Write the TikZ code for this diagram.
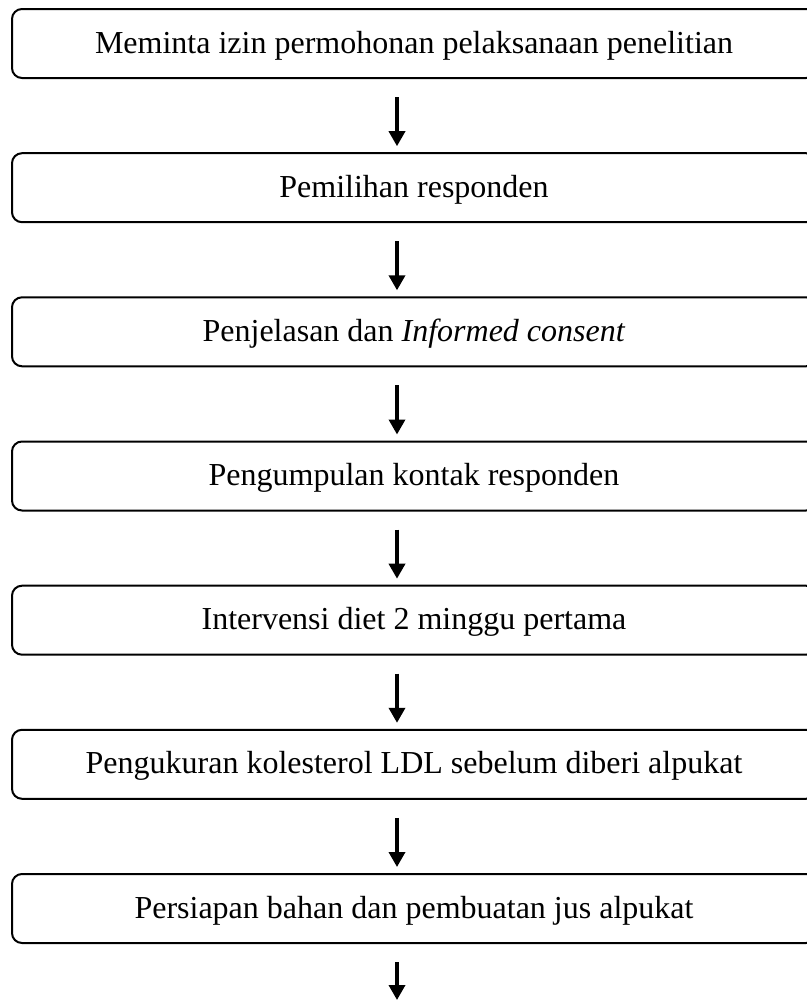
\documentclass[tikz,border=0pt]{standalone}
\usepackage{fontspec}
\setmainfont{Liberation Serif}
\usetikzlibrary{arrows.meta}

\tikzset{
  stepbox/.style={draw, line width=1pt, rounded corners=5pt,
    minimum width=402pt, minimum height=34.5pt, inner sep=0pt,
    text height=11.5pt, text depth=2pt,
    font=\fontsize{16}{20}\selectfont},
  steparrow/.style={-{Triangle[width=8pt,length=7.5pt]}, line width=1.75pt,
    shorten <=9pt, shorten >=3pt}
}

\begin{document}
\begin{tikzpicture}[x=0.5pt, y=-0.5pt]

\clip (0,0) rectangle (807,1001);

% the steps
\node [stepbox] (izin)      at (414,43.5)  {Meminta izin permohonan pelaksanaan penelitian};
\node [stepbox] (pilih)     at (414,187.7) {Pemilihan responden};
\node [stepbox] (jelas)     at (414,331.8) {Penjelasan dan \textit{Informed consent}};
\node [stepbox] (kontak)    at (414,476.0) {Pengumpulan kontak responden};
\node [stepbox] (diet)      at (414,620.2) {Intervensi diet 2 minggu pertama};
\node [stepbox] (ukur)      at (414,764.3) {Pengukuran kolesterol LDL sebelum diberi alpukat};
\node [stepbox] (jus)       at (414,908.5) {Persiapan bahan dan pembuatan jus alpukat};

% free end of the last arrow
\coordinate (akhir) at (397,1000);

% arrows between the steps
\draw [steparrow] ([xshift=-8.5pt]izin.south)   -- ([xshift=-8.5pt]pilih.north);
\draw [steparrow] ([xshift=-8.5pt]pilih.south)  -- ([xshift=-8.5pt]jelas.north);
\draw [steparrow] ([xshift=-8.5pt]jelas.south)  -- ([xshift=-8.5pt]kontak.north);
\draw [steparrow] ([xshift=-8.5pt]kontak.south) -- ([xshift=-8.5pt]diet.north);
\draw [steparrow] ([xshift=-8.5pt]diet.south)   -- ([xshift=-8.5pt]ukur.north);
\draw [steparrow] ([xshift=-8.5pt]ukur.south)   -- ([xshift=-8.5pt]jus.north);
\draw [steparrow, shorten >=0pt] ([xshift=-8.5pt]jus.south) -- (akhir);

\end{tikzpicture}
\end{document}
